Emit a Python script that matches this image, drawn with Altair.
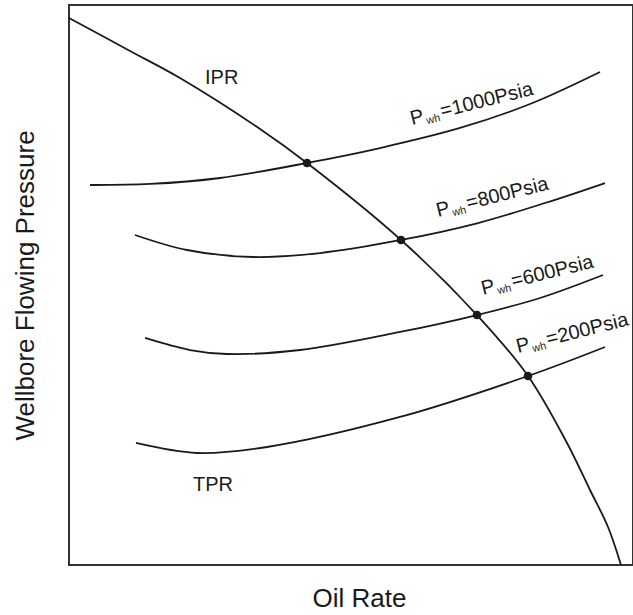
import altair as alt
import pandas as pd

# IPR curve (oil rate, wellbore flowing pressure) in arbitrary units 0-1000
ipr_x = [0, 108.2, 196.8, 338.7, 422.0, 588.7, 723.4, 813.8, 883.0, 923.8, 955.7, 978.7]
ipr_y = [976.8, 917.9, 869.6, 778.6, 717.9, 580.4, 446.4, 337.5, 217.9, 133.9, 67.9, 0]

# TPR curves for different wellhead pressures
tpr_1000_x = [37.2, 143.6, 267.7, 422.0, 551.4, 693.3, 817.4, 941.5]
tpr_1000_y = [678.6, 680.4, 691.1, 717.9, 744.6, 780.4, 823.2, 880.4]

tpr_800_x = [117.0, 209.2, 326.2, 445.0, 588.7, 725.2, 844.0, 950.4]
tpr_800_y = [589.3, 562.5, 550.0, 557.1, 580.4, 610.7, 646.4, 682.1]

tpr_600_x = [134.8, 214.5, 280.1, 409.6, 586.9, 723.4, 835.1, 946.8]
tpr_600_y = [405.4, 383.9, 376.8, 383.9, 416.1, 446.4, 476.8, 517.9]

tpr_200_x = [118.8, 227.0, 351.1, 586.9, 813.8, 950.4]
tpr_200_y = [217.9, 200.0, 210.7, 264.3, 337.5, 389.3]

# operating points (IPR / TPR intersections)
op_x = [422.0, 588.7, 723.4, 813.8]
op_y = [717.9, 580.4, 446.4, 337.5]

# curve labels
wh_labels = ["=1000Psia", "=800Psia", "=600Psia", "=200Psia"]
label_x = [608.2, 654.3, 734.0, 796.1]
label_y = [785.7, 621.4, 482.1, 378.6]

name_labels = ["IPR", "TPR"]
name_x = [241.1, 219.9]
name_y = [858.9, 132.1]

rows = []
for name, xs, ys in [
    ("IPR", ipr_x, ipr_y),
    ("1000", tpr_1000_x, tpr_1000_y),
    ("800", tpr_800_x, tpr_800_y),
    ("600", tpr_600_x, tpr_600_y),
    ("200", tpr_200_x, tpr_200_y),
]:
    for i, (a, b) in enumerate(zip(xs, ys)):
        rows.append({"curve": name, "x": a, "y": b, "o": i})
curves = pd.DataFrame(rows)
points = pd.DataFrame({"x": op_x, "y": op_y})
labels = pd.DataFrame({"x": label_x, "y": label_y, "t": wh_labels, "p": ["P"] * 4, "s": ["wh"] * 4})
names = pd.DataFrame({"x": name_x, "y": name_y, "t": name_labels})

FONT = "Liberation Sans"
INK = "#1a1a1a"

xs = alt.Scale(domain=[0, 1000], nice=False, zero=False)
ys = alt.Scale(domain=[0, 1000], nice=False, zero=False)

X = alt.X("x:Q", scale=xs, title="Oil Rate",
          axis=alt.Axis(titleX=290, titleY=41, titleBaseline="alphabetic",
                        titleAlign="center"))
Y = alt.Y("y:Q", scale=ys, title="Wellbore Flowing Pressure",
          axis=alt.Axis(titleX=-36, titleY=280, titleBaseline="alphabetic",
                        titleAlign="center", titleAngle=270))

lines = alt.Chart(curves).mark_line(
    color=INK, strokeWidth=1.8, interpolate="catmull-rom"
).encode(x=X, y=Y, detail="curve:N", order="o:Q")

dots = alt.Chart(points).mark_circle(color=INK, opacity=1, size=75).encode(
    x="x:Q", y="y:Q")

ANG = 346
p_text = alt.Chart(labels).mark_text(
    align="left", baseline="alphabetic", angle=ANG, fontSize=20, font=FONT, color=INK
).encode(x="x:Q", y="y:Q", text="p:N")
sub_text = alt.Chart(labels).mark_text(
    align="left", baseline="alphabetic", angle=ANG, fontSize=11, font=FONT, color=INK,
    dx=15, dy=3
).encode(x="x:Q", y="y:Q", text="s:N")
val_text = alt.Chart(labels).mark_text(
    align="left", baseline="alphabetic", angle=ANG, fontSize=20, font=FONT, color=INK,
    dx=31
).encode(x="x:Q", y="y:Q", text="t:N")

name_text = alt.Chart(names).mark_text(
    align="left", baseline="alphabetic", fontSize=20, font=FONT, color=INK
).encode(x="x:Q", y="y:Q", text="t:N")

chart = alt.layer(lines, dots, p_text, sub_text, val_text, name_text).properties(
    width=564, height=560,
    padding={"left": 69, "top": 5, "right": 0, "bottom": 50},
    autosize=alt.AutoSizeParams(type="none"),
    background="white",
).configure_view(
    stroke="#333", strokeWidth=2
).configure_axis(
    ticks=False, labels=False, domain=False, grid=False,
    titleFont=FONT, titleFontSize=26, titleFontWeight="normal", titleColor=INK,
    titlePadding=0,
)

chart.save("out.html", embed_options={"renderer": "svg", "actions": False})
